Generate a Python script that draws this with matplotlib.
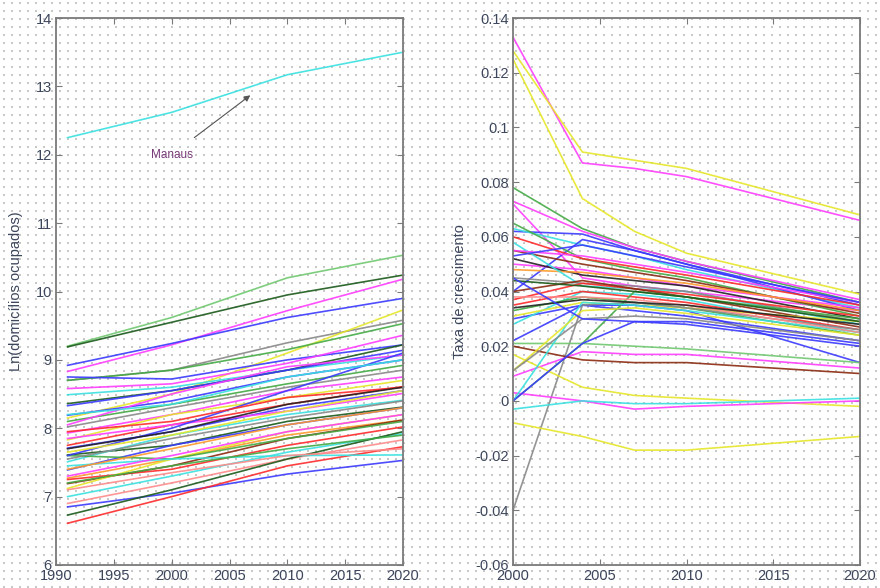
import numpy as np
import matplotlib
matplotlib.use('Agg')
import matplotlib.pyplot as plt

plt.rcParams['font.family'] = ['Liberation Sans', 'DejaVu Sans']

# anos dos pontos de cada curva
anos_ln = [1991, 2000, 2010, 2020]
anos_tx = [2000, 2004, 2007, 2010, 2020]

cores = {
    'b': '#3a3aff', 'g': '#44aa44', 'lg': '#70c870', 'dg': '#1a5a1a',
    'r': '#ff2a2a', 'c': '#3ae0e0', 'm': '#ff3cff', 'y': '#e6e62a',
    'gr': '#888888', 'k': '#222222', 'o': '#ff9a2a', 'br': '#8a2a10',
    'p': '#ff8a8a',
}

# Ln(domicilios ocupados) por municipio
ln_cores = ['c', 'lg', 'dg', 'm', 'b', 'gr', 'y', 'g', 'b', 'm',
            'c', 'dg', 'b', 'g', 'b', 'gr', 'm', 'y', 'r', 'b',
            'm', 'dg', 'c', 'b', 'o', 'r', 'br', 'y', 'c', 'p',
            'b', 'dg', 'r', 'g', 'c', 'm', 'b', 'r', 'g', 'gr',
            'k', 'm', 'c', 'y', 'o', 'p']
ln_vals = [
    [12.25, 12.62, 13.17, 13.50],
    [9.20, 9.62, 10.20, 10.53],
    [9.19, 9.55, 9.95, 10.24],
    [8.83, 9.22, 9.72, 10.18],
    [8.92, 9.24, 9.62, 9.90],
    [8.70, 8.85, 9.25, 9.58],
    [8.15, 8.50, 9.10, 9.73],
    [8.70, 8.85, 9.15, 9.53],
    [8.75, 8.72, 9.00, 9.22],
    [8.58, 8.65, 8.95, 9.36],
    [8.49, 8.60, 8.85, 9.07],
    [8.36, 8.55, 8.85, 9.22],
    [8.33, 8.55, 8.85, 9.14],
    [8.10, 8.35, 8.65, 8.92],
    [8.19, 8.40, 8.75, 9.00],
    [8.02, 8.30, 8.60, 8.85],
    [7.93, 8.20, 8.55, 8.75],
    [7.83, 8.20, 8.45, 8.70],
    [7.75, 8.05, 8.35, 8.61],
    [7.71, 7.95, 8.30, 8.55],
    [7.85, 8.05, 8.25, 8.51],
    [7.61, 7.75, 8.10, 8.31],
    [7.51, 7.90, 8.20, 8.41],
    [7.39, 7.75, 8.05, 8.30],
    [7.27, 7.55, 7.90, 8.12],
    [7.25, 7.40, 7.75, 8.02],
    [7.19, 7.45, 7.85, 8.12],
    [7.12, 7.55, 7.95, 8.20],
    [7.00, 7.30, 7.65, 7.92],
    [6.90, 7.20, 7.55, 7.83],
    [6.85, 7.05, 7.33, 7.53],
    [6.73, 7.10, 7.55, 7.95],
    [6.61, 7.00, 7.45, 7.73],
    [7.60, 7.55, 7.85, 8.10],
    [7.45, 7.55, 7.60, 7.61],
    [8.05, 8.50, 8.90, 9.07],
    [7.60, 8.00, 8.55, 9.10],
    [7.95, 8.10, 8.45, 8.60],
    [7.20, 7.45, 7.70, 7.90],
    [7.55, 7.85, 8.15, 8.40],
    [7.70, 7.95, 8.35, 8.60],
    [7.30, 7.60, 7.95, 8.20],
    [8.20, 8.35, 8.75, 9.00],
    [7.65, 7.90, 8.25, 8.55],
    [7.40, 7.70, 8.05, 8.30],
    [7.10, 7.35, 7.60, 7.70],
]

# taxa de crescimento por municipio
tx_cores = ['m', 'y', 'y', 'g', 'm', 'm', 'b', 'c', 'b', 'g',
            'r', 'br', 'm', 'k', 'o', 'c', 'gr', 'r', 'br', 'b',
            'c', 'g', 'y', 'r', 'b', 'gr', 'g', 'lg', 'm', 'br',
            'y', 'm', 'c', 'y', 'c', 'y', 'gr', 'b', 'm', 'b',
            'dg', 'p', 'k', 'b']
tx_vals = [
    [0.133, 0.087, 0.085, 0.082, 0.066],
    [0.128, 0.091, 0.088, 0.085, 0.068],
    [0.125, 0.074, 0.062, 0.054, 0.039],
    [0.078, 0.063, 0.056, 0.051, 0.036],
    [0.073, 0.062, 0.056, 0.051, 0.037],
    [0.072, 0.045, 0.042, 0.040, 0.033],
    [0.062, 0.061, 0.055, 0.050, 0.035],
    [0.063, 0.057, 0.053, 0.048, 0.034],
    [0.040, 0.059, 0.055, 0.050, 0.033],
    [0.065, 0.052, 0.048, 0.045, 0.031],
    [0.060, 0.052, 0.049, 0.046, 0.035],
    [0.055, 0.050, 0.047, 0.044, 0.032],
    [0.050, 0.048, 0.045, 0.042, 0.034],
    [0.052, 0.046, 0.044, 0.042, 0.030],
    [0.048, 0.047, 0.045, 0.043, 0.033],
    [0.058, 0.042, 0.041, 0.040, 0.028],
    [0.045, 0.043, 0.042, 0.040, 0.029],
    [0.037, 0.043, 0.041, 0.039, 0.031],
    [0.040, 0.044, 0.041, 0.038, 0.027],
    [0.030, 0.035, 0.033, 0.031, 0.022],
    [0.028, 0.040, 0.039, 0.037, 0.025],
    [0.033, 0.038, 0.036, 0.034, 0.024],
    [0.031, 0.036, 0.035, 0.034, 0.029],
    [0.035, 0.040, 0.038, 0.036, 0.026],
    [0.022, 0.035, 0.035, 0.033, 0.014],
    [-0.040, 0.035, 0.036, 0.034, 0.026],
    [0.000, 0.021, 0.040, 0.038, 0.030],
    [0.021, 0.021, 0.020, 0.019, 0.014],
    [0.009, 0.018, 0.017, 0.017, 0.012],
    [0.020, 0.015, 0.014, 0.014, 0.010],
    [0.017, 0.005, 0.002, 0.001, -0.002],
    [0.003, 0.000, -0.003, -0.002, 0.000],
    [-0.003, 0.000, -0.001, -0.001, 0.001],
    [-0.008, -0.013, -0.018, -0.018, -0.013],
    [0.000, 0.036, 0.035, 0.033, 0.025],
    [0.011, 0.033, 0.034, 0.032, 0.024],
    [0.011, 0.030, 0.031, 0.030, 0.022],
    [0.000, 0.021, 0.029, 0.028, 0.020],
    [0.055, 0.053, 0.050, 0.047, 0.036],
    [0.053, 0.057, 0.053, 0.049, 0.036],
    [0.044, 0.042, 0.040, 0.038, 0.029],
    [0.038, 0.038, 0.037, 0.035, 0.025],
    [0.034, 0.037, 0.036, 0.035, 0.028],
    [0.045, 0.030, 0.029, 0.029, 0.021],
]

fig = plt.figure(figsize=(8.8, 5.88), dpi=100)
fig.patch.set_facecolor('white')

# fundo pontilhado que cobre toda a figura
bg = fig.add_axes([0, 0, 1, 1], zorder=-10)
bg.set_xlim(0, 880)
bg.set_ylim(588, 0)
bg.axis('off')
gx, gy = np.meshgrid(np.arange(4, 880, 8), np.arange(3, 588, 8))
bg.scatter(gx.ravel(), gy.ravel(), s=1.2, marker='s', color='#c8c8c8', linewidths=0)

txt_cor = '#3c465c'


def estilo(ax):
    ax.set_facecolor('none')
    ax.tick_params(direction='in', top=True, right=True, length=4, width=0.8,
                   colors='#7a7a7a', labelcolor=txt_cor, labelsize=10.5, pad=3)
    for s in ax.spines.values():
        s.set_color('#7a7a7a')
        s.set_linewidth(1.3)


ax1 = fig.add_axes([56 / 880, 23 / 588, 347 / 880, 547 / 588])
for c, v in zip(ln_cores, ln_vals):
    ax1.plot(anos_ln, v, color=cores[c], lw=1.2, alpha=0.9)
ax1.set_xlim(1990, 2020)
ax1.set_ylim(6, 14)
ax1.set_xticks(range(1990, 2021, 5))
ax1.set_yticks(range(6, 15))
ax1.set_ylabel('Ln(domicílios ocupados)', fontsize=10.5, color=txt_cor, labelpad=9)
ax1.annotate('Manaus', xy=(2006.8, 12.87), xytext=(2000.0, 12.0),
             fontsize=8.5, color='#7a3a7a', ha='center', va='center',
             arrowprops=dict(arrowstyle='-|>', color='#555555', lw=0.8,
                             mutation_scale=9, shrinkA=10, shrinkB=0))
estilo(ax1)

ax2 = fig.add_axes([513 / 880, 23 / 588, 347 / 880, 547 / 588])
for c, v in zip(tx_cores, tx_vals):
    ax2.plot(anos_tx, v, color=cores[c], lw=1.2, alpha=0.9)
ax2.set_xlim(2000, 2020)
ax2.set_ylim(-0.06, 0.14)
ax2.set_xticks(range(2000, 2021, 5))
ax2.set_yticks(np.arange(-0.06, 0.141, 0.02))
ax2.set_yticklabels(['-0.06', '-0.04', '-0.02', '0', '0.02', '0.04', '0.06',
                     '0.08', '0.1', '0.12', '0.14'])
ax2.set_ylabel('Taxa de crescimento', fontsize=10.5, color=txt_cor, labelpad=6)
estilo(ax2)

fig.savefig('out.png', dpi=100)
